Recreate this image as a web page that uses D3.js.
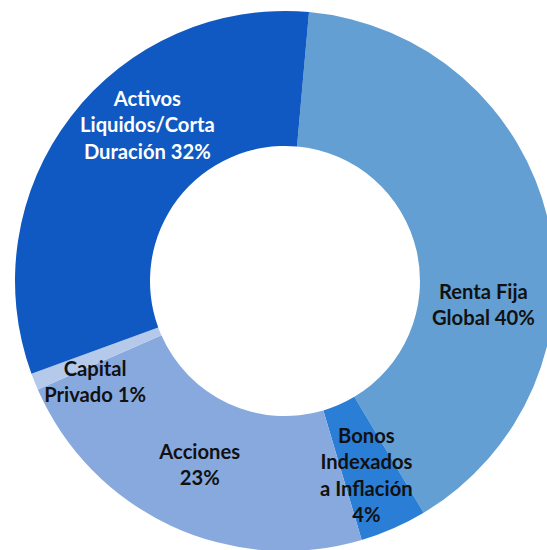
<!DOCTYPE html>
<html>
<head>
<meta charset="utf-8">
<script src="https://cdn.jsdelivr.net/npm/d3@7"></script>
<style>
html,body{margin:0;padding:0;background:#fff;}
svg{display:block;}
</style>
</head>
<body>
<svg id="chart" width="547" height="550"></svg>
<script>
const categories = ["Renta Fija Global", "Bonos Indexados a Inflación", "Acciones", "Capital Privado", "Activos Liquidos/Corta Duración"];
const values = [40, 4, 23, 1, 32];
const labelLines = [
  ["Renta Fija", "Global 40%"],
  ["Bonos", "Indexados", "a Inflación", "4%"],
  ["Acciones", "23%"],
  ["Capital", "Privado 1%"],
  ["Activos", "Liquidos/Corta", "Duración 32%"]
];
const colors = ["#639FD2", "#2B7ED6", "#88A9DE", "#B5C9EB", "#1059C2"];
const textColors = ["#111", "#111", "#111", "#111", "#ffffff"];
const labelOffsets = [[1, 69], [0, 9], [0, 0], [-2, 25], [23, -33]];

const cx = 285, cy = 281, R = 270, r = 135;
const startDeg = 5.1;
const fs = 20.2, lh = 26.5;

const svg = d3.select("#chart");
const g = svg.append("g").attr("transform", `translate(${cx},${cy})`);

const data = categories.map((c, i) => ({name: c, value: values[i], i}));
const pie = d3.pie().value(d => d.value).sort(null)
  .startAngle(startDeg * Math.PI / 180)
  .endAngle(startDeg * Math.PI / 180 + 2 * Math.PI);
const arcs = pie(data);
const arc = d3.arc().innerRadius(r).outerRadius(R);
const labelArc = d3.arc().innerRadius((r + R) / 2).outerRadius((r + R) / 2);

g.selectAll("path.slice").data(arcs).join("path")
  .attr("class", "slice")
  .attr("d", arc)
  .attr("fill", d => colors[d.data.i]);

g.selectAll("text.lbl").data(arcs).join("text")
  .attr("class", "lbl")
  .attr("text-anchor", "middle")
  .attr("font-family", "Lato, 'Open Sans', sans-serif")
  .attr("font-weight", 700)
  .attr("font-size", fs)
  .attr("fill", d => textColors[d.data.i])
  .each(function(d) {
    const [x0, y0] = labelArc.centroid(d);
    const off = labelOffsets[d.data.i];
    const x = x0 + off[0], y = y0 + off[1];
    const lines = labelLines[d.data.i];
    const n = lines.length;
    d3.select(this).selectAll("tspan").data(lines).join("tspan")
      .attr("x", x)
      .attr("y", (t, k) => y + (k - (n - 1) / 2) * lh + 0.36 * fs)
      .text(t => t);
  });
</script>
</body>
</html>
